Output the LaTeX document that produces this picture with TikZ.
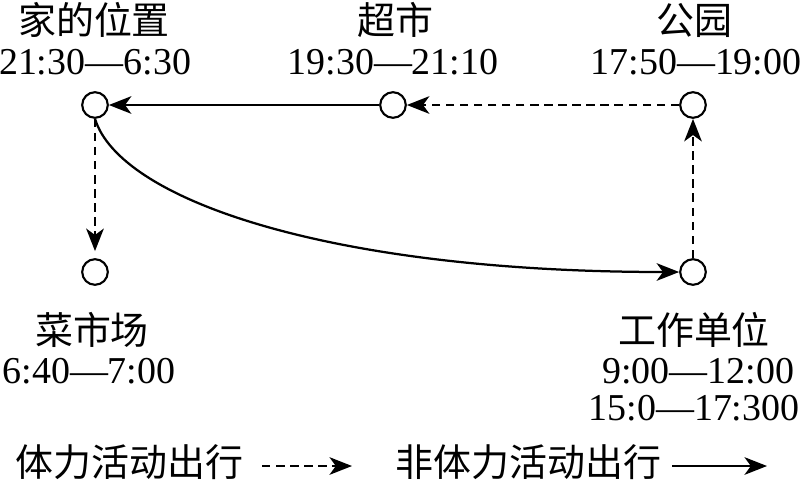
\documentclass[tikz,border=0pt]{standalone}
\usepackage{fontspec}
\setmainfont{Liberation Serif}
\newfontfamily\cjk{Noto Sans CJK SC}
\usetikzlibrary{arrows.meta}

\begin{document}
\begin{tikzpicture}[x=0.025cm,y=-0.025cm,>={Stealth[length=16pt,width=12.5pt,inset=4.5pt]},
 spot/.style={draw,circle,line width=1.5pt,minimum size=0.64cm,inner sep=0pt},
 txt/.style={anchor=base,inner sep=0pt,font=\fontsize{27}{30}\selectfont},
 zh/.style={txt,font=\fontsize{27}{30}\selectfont\cjk},
 walk/.style={->,line width=1.6pt,dash pattern=on 6pt off 4pt},
 ride/.style={->,line width=1.6pt}]
\useasboundingbox (0,0) rectangle (800,483);
\node[spot] (home) at (95,105) {};
\node[spot] (shop) at (393,105) {};
\node[spot] (park) at (693,105) {};
\node[spot] (market) at (95,272) {};
\node[spot] (work) at (693,272) {};
\node[zh] (homeN) at (94,34) {家的位置};
\node[txt] (homeT) at (95,74) {21:30—6:30};
\node[zh] (shopN) at (395,34) {超市};
\node[txt] (shopT) at (393,74) {19:30—21:10};
\node[zh] (parkN) at (694,34) {公园};
\node[txt] (parkT) at (696,74) {17:50—19:00};
\node[zh] (marketN) at (92,344) {菜市场};
\node[txt] (marketT) at (89,383) {6:40—7:00};
\node[zh] (workN) at (694,344) {工作单位};
\node[txt] (workT1) at (698,383) {9:00—12:00};
\node[txt] (workT2) at (694,420) {15:0—17:300};
\node[zh,anchor=base west] (walkL) at (15,476) {体力活动出行};
\coordinate (walkA) at (262,466); \coordinate (walkB) at (352,466);
\node[zh,anchor=base west] (rideL) at (395,476) {非体力活动出行};
\coordinate (rideA) at (672,466); \coordinate (rideB) at (767,466);
\draw[ride] (shop) -- (home);
\draw[walk] (park) -- (shop);
\draw[walk] (work) -- (park);
\draw[walk,shorten >=5pt] (home) -- (market);
\draw[ride] (home.south) .. controls (120,200) and (330,272) .. (work.west);
\draw[walk] (walkA) -- (walkB);
\draw[ride] (rideA) -- (rideB);
\end{tikzpicture}
\end{document}
